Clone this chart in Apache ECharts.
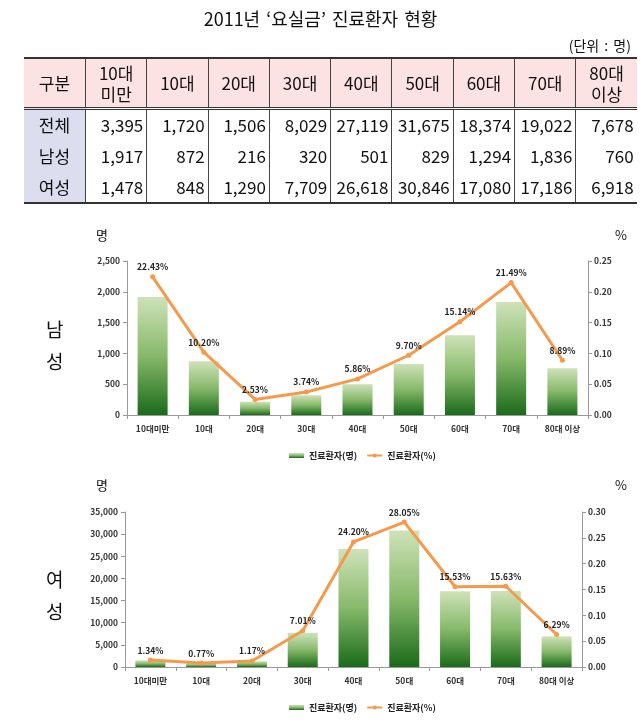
<!DOCTYPE html>
<html>
<head>
<meta charset="utf-8">
<script src="https://cdn.jsdelivr.net/npm/echarts@6/dist/echarts.min.js"></script>
<style>
  html, body { margin: 0; padding: 0; background: #fff; }
  body { width: 641px; height: 722px; position: relative; overflow: hidden;
         font-family: 'Noto Sans CJK KR', 'Noto Sans', sans-serif; color: #111; }
  #chart { position: absolute; left: 0; top: 0; width: 641px; height: 722px; }
  #title { position: absolute; left: 0; top: 7px; width: 641px; text-align: center;
           font-size: 18px; line-height: 22px; z-index: 2; word-spacing: 2px; }
  #unit { position: absolute; right: 10px; top: 36px; font-size: 14px; line-height: 18px; z-index: 2; word-spacing: 2px; }
  #tbl { position: absolute; left: 24px; top: 57px; width: 604px; border-collapse: collapse;
         table-layout: fixed; z-index: 2; font-size: 17px; }
  #tbl td, #tbl th { padding: 0; font-weight: normal; border-left: 1px solid #444; }
  #tbl tr td:first-child, #tbl tr th:first-child { border-left: none; }
  #tbl thead tr { height: 50px; background: #fde2e4; border-top: 2px solid #333; border-bottom: 3px double #333; }
  #tbl thead th { text-align: center; line-height: 21px; }
  #tbl tbody tr { height: 31.5px; }
  #tbl tbody tr:last-child { border-bottom: 2px solid #333; }
  #tbl tbody td { text-align: right; padding-right: 3px; }
  #tbl tbody td.lbl { text-align: center; background: #dcdef0; padding-right: 0; }
</style>
</head>
<body>
<div id="chart"></div>
<div id="title"></div>
<div id="unit"></div>
<table id="tbl"><thead></thead><tbody></tbody></table>
<script>
// ---- data ----
const titleText = '2011년 ‘요실금’ 진료환자 현황';
const unitText = '(단위 : 명)';
const categories = ['10대미만', '10대', '20대', '30대', '40대', '50대', '60대', '70대', '80대 이상'];
const tableHeaders = ['구분', '10대\n미만', '10대', '20대', '30대', '40대', '50대', '60대', '70대', '80대\n이상'];
const rowLabels = ['전체', '남성', '여성'];
const totalCounts = [3395, 1720, 1506, 8029, 27119, 31675, 18374, 19022, 7678];
const maleCounts = [1917, 872, 216, 320, 501, 829, 1294, 1836, 760];
const femaleCounts = [1478, 848, 1290, 7709, 26618, 30846, 17080, 17186, 6918];
const malePct = [0.2243, 0.1020, 0.0253, 0.0374, 0.0586, 0.0970, 0.1514, 0.2149, 0.0889];
const femalePct = [0.0134, 0.0077, 0.0117, 0.0701, 0.2420, 0.2805, 0.1553, 0.1563, 0.0629];
const barName = '진료환자(명)';
const lineName = '진료환자(%)';

// ---- title & table ----
document.getElementById('title').textContent = titleText;
document.getElementById('unit').textContent = unitText;
const fmt = n => n.toLocaleString('en-US');
const thead = document.querySelector('#tbl thead');
const htr = document.createElement('tr');
tableHeaders.forEach((h, i) => {
  const th = document.createElement('th');
  th.style.width = i === 0 ? '61px' : '60.3px';
  th.innerHTML = h.split('\n').join('<br>');
  htr.appendChild(th);
});
thead.appendChild(htr);
const tbody = document.querySelector('#tbl tbody');
[totalCounts, maleCounts, femaleCounts].forEach((row, r) => {
  const tr = document.createElement('tr');
  const td0 = document.createElement('td');
  td0.className = 'lbl';
  td0.textContent = rowLabels[r];
  tr.appendChild(td0);
  row.forEach(v => {
    const td = document.createElement('td');
    td.textContent = fmt(v);
    tr.appendChild(td);
  });
  tbody.appendChild(tr);
});

// ---- charts ----
const chart = echarts.init(document.getElementById('chart'));
const FONT = "'Noto Sans CJK KR', 'Noto Sans', sans-serif";
const axisColor = '#9a9a9a';
const lineColor = '#f59a4c';
const barGrad = new echarts.graphic.LinearGradient(0, 0, 0, 1, [
  { offset: 0, color: '#cfe2b9' },
  { offset: 0.5, color: '#86b96a' },
  { offset: 1, color: '#1a6b1a' }
]);
const smallLabel = { fontSize: 8.5, fontWeight: 'bold', color: '#333', fontFamily: FONT };

function xAx(gi) {
  return {
    type: 'category', gridIndex: gi, data: categories,
    axisLine: { lineStyle: { color: axisColor } },
    axisTick: { show: true, length: 4, lineStyle: { color: axisColor } },
    axisLabel: Object.assign({ margin: 10, interval: 0 }, smallLabel)
  };
}
function yLeft(gi, max, interval) {
  return {
    type: 'value', gridIndex: gi, min: 0, max: max, interval: interval, position: 'left',
    axisLine: { show: true, lineStyle: { color: axisColor } },
    axisTick: { show: true, length: 4, lineStyle: { color: axisColor } },
    splitLine: { show: false },
    axisLabel: Object.assign({ margin: 7, formatter: v => fmt(v) }, smallLabel)
  };
}
function yRight(gi, max) {
  return {
    type: 'value', gridIndex: gi, min: 0, max: max, interval: 0.05, position: 'right',
    axisLine: { show: true, lineStyle: { color: axisColor } },
    axisTick: { show: true, length: 4, lineStyle: { color: axisColor } },
    splitLine: { show: false },
    axisLabel: Object.assign({ margin: 6, formatter: v => v.toFixed(2) }, smallLabel)
  };
}
function barSeries(idx, data) {
  return {
    name: barName, type: 'bar', xAxisIndex: idx, yAxisIndex: idx * 2,
    data: data, barWidth: 30, itemStyle: { color: barGrad }
  };
}
function lineSeries(idx, data) {
  return {
    name: lineName, type: 'line', xAxisIndex: idx, yAxisIndex: idx * 2 + 1,
    data: data, symbol: 'circle', symbolSize: 5,
    lineStyle: { color: lineColor, width: 3 }, itemStyle: { color: lineColor },
    label: Object.assign({ show: true, position: 'top', distance: 3,
      formatter: p => (p.value * 100).toFixed(2) + '%' }, smallLabel, { color: '#222' }),
    z: 5
  };
}
function txt(x, y, s, size, weight) {
  return { type: 'text', left: x, top: y,
    style: { text: s, font: (weight || 'normal') + ' ' + size + 'px ' + FONT, fill: '#111' } };
}
function legend(top) {
  return {
    left: 284, top: top, itemWidth: 15, itemHeight: 5, itemGap: 9,
    textStyle: { fontSize: 9, fontWeight: 'bold', color: '#222', fontFamily: FONT },
    data: [{ name: barName, icon: 'rect' }, { name: lineName }]
  };
}

chart.setOption({
  animation: false,
  textStyle: { fontFamily: FONT },
  grid: [
    { left: 127, right: 53, top: 261, height: 154 },
    { left: 125, right: 59, top: 512, height: 155 }
  ],
  xAxis: [xAx(0), xAx(1)],
  yAxis: [yLeft(0, 2500, 500), yRight(0, 0.25), yLeft(1, 35000, 5000), yRight(1, 0.30)],
  legend: [legend(446), legend(698)],
  series: [
    barSeries(0, maleCounts), lineSeries(0, malePct),
    barSeries(1, femaleCounts), lineSeries(1, femalePct)
  ],
  graphic: [
    txt(96, 229, '명', 13), txt(615, 229, '%', 13),
    txt(96, 479, '명', 13), txt(615, 479, '%', 13),
    txt(46, 320, '남', 19), txt(46, 352, '성', 19),
    txt(46, 570, '여', 19), txt(46, 602, '성', 19)
  ]
});
</script>
</body>
</html>
